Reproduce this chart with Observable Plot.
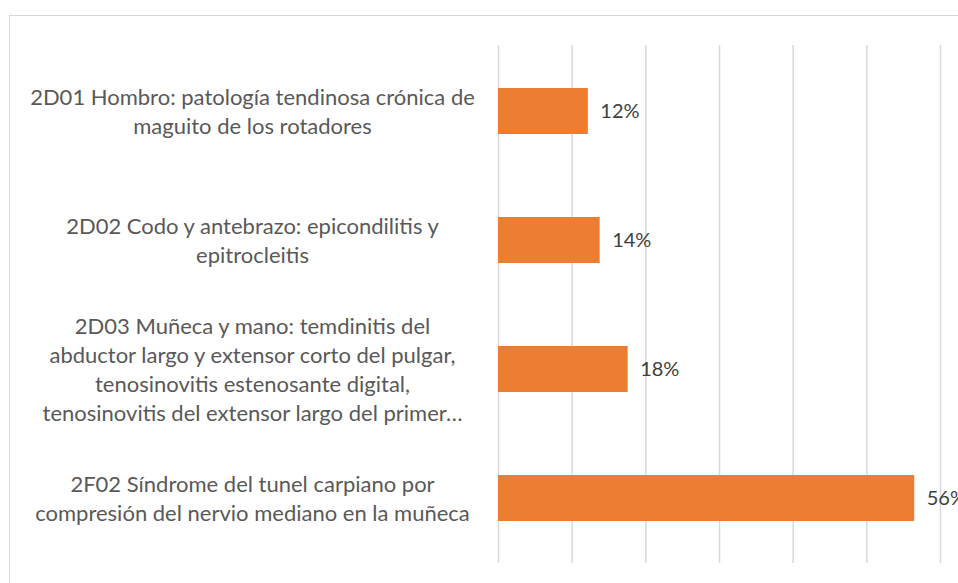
<!DOCTYPE html>
<html>
<head>
<meta charset="utf-8">
<script src="https://cdn.jsdelivr.net/npm/d3@7"></script>
<script src="https://cdn.jsdelivr.net/npm/@observablehq/plot@0.6"></script>
<style>
  html, body { margin: 0; padding: 0; background: #fff; overflow: hidden; }
  #wrap { position: relative; width: 958px; height: 583px; overflow: hidden; }
  #frame { position: absolute; left: 9px; top: 15px; width: 1000px; height: 700px; border: 1.5px solid #d9d9d9; box-sizing: border-box; }
  #chart { position: absolute; left: 0; top: 0; }
</style>
</head>
<body>
<div id="wrap"><div id="frame"></div><div id="chart"></div></div>
<script>
const categories = [
  "2D01 Hombro: patología tendinosa crónica de\nmaguito de los rotadores",
  "2D02 Codo y antebrazo: epicondilitis y\nepitrocleitis",
  "2D03 Muñeca y mano: temdinitis del\nabductor largo y extensor corto del pulgar,\ntenosinovitis estenosante digital,\ntenosinovitis del extensor largo del primer…",
  "2F02 Síndrome del tunel carpiano por\ncompresión del nervio mediano en la muñeca"
];
const values = [12.2, 13.8, 17.6, 56.5];
const valueLabels = ["12%", "14%", "18%", "56%"];
const gridTicks = [0, 10, 20, 30, 40, 50, 60];

const data = categories.map((c, i) => ({cat: c, v: values[i], lab: valueLabels[i]}));

const chart = Plot.plot({
  width: 958,
  height: 583,
  marginLeft: 498,
  marginRight: 18,
  marginTop: 45,
  marginBottom: 20,
  style: {fontFamily: "Lato, 'Open Sans', sans-serif", background: "transparent"},
  x: {domain: [0, 60], axis: null},
  y: {domain: categories, axis: null, paddingInner: 0.645, paddingOuter: 0.3225},
  marks: [
    Plot.ruleX(gridTicks, {x: d => d, stroke: "#d9d9d9", strokeWidth: 1.5}),
    Plot.barX(data, {x: "v", y: "cat", fill: "#ED7D31"}),
    Plot.text(data, {x: "v", y: "cat", text: "lab", textAnchor: "start", dx: 12, fontSize: 20, fill: "#404040"}),
    Plot.text(data, {y: "cat", text: "cat", frameAnchor: "left", textAnchor: "middle", dx: -246, dy: -1, fontSize: 22, lineHeight: 1.32, fill: "#595959"})
  ]
});
document.getElementById("chart").appendChild(chart);
</script>
</body>
</html>
